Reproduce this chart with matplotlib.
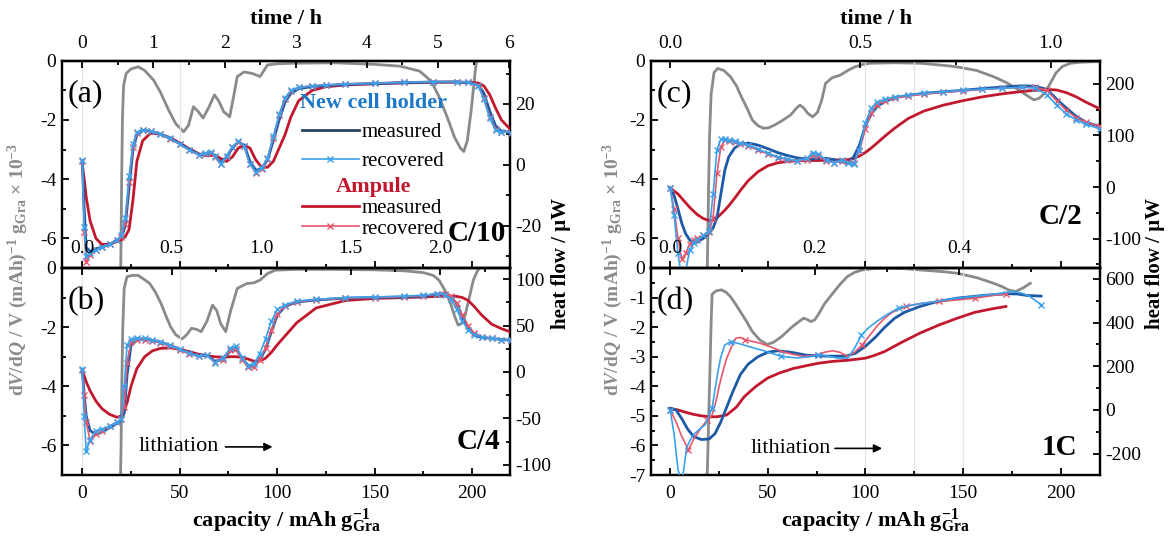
import numpy as np
import matplotlib
matplotlib.use("Agg")
import matplotlib.pyplot as plt
from matplotlib.ticker import MultipleLocator, FormatStrFormatter

# ---------------------------------------------------------------- data
# panel (a)  C/10
CAP_A = [0, 1, 2, 4, 7, 10, 14, 18, 20, 22, 24, 26, 28, 31, 35, 40, 45, 50, 55, 60,
         63, 66, 68, 71, 74, 77, 80, 83, 86, 89, 92, 95, 98, 101, 104, 107, 111, 118, 125, 135,
         150, 165, 180, 192, 198, 203, 206, 209, 212, 215, 220]
NCH_MEAS_A = [-3.4, -5.0, -6.3, -6.45, -6.35, -6.3, -6.2, -6.05, -5.95, -5.6, -4.3, -3.0, -2.5, -2.35, -2.38, -2.48, -2.62, -2.8, -3.0, -3.17,
              -3.15, -3.1, -3.2, -3.45, -3.25, -2.95, -2.75, -2.85, -3.4, -3.7, -3.65, -3.35, -2.7, -2.0, -1.4, -1.1, -0.95, -0.87, -0.84, -0.8,
              -0.77, -0.74, -0.72, -0.72, -0.74, -0.8, -1.1, -1.7, -2.2, -2.38, -2.42]
NCH_REC_A = [-3.35, -5.6, -6.6, -6.5, -6.4, -6.3, -6.2, -6.05, -5.9, -5.3, -3.9, -2.8, -2.42, -2.33, -2.37, -2.47, -2.62, -2.82, -3.02, -3.18,
             -3.13, -3.08, -3.22, -3.48, -3.22, -2.9, -2.72, -2.88, -3.5, -3.75, -3.62, -3.3, -2.55, -1.8, -1.25, -1.0, -0.9, -0.85, -0.82, -0.79,
             -0.76, -0.73, -0.71, -0.71, -0.73, -0.85, -1.3, -1.95, -2.35, -2.4, -2.43]
AMP_MEAS_A = [-3.5, -4.0, -4.6, -5.4, -6.0, -6.2, -6.2, -6.1, -6.05, -5.95, -5.7, -4.7, -3.4, -2.7, -2.45, -2.48, -2.6, -2.78, -2.98, -3.15,
              -3.2, -3.2, -3.2, -3.3, -3.4, -3.25, -2.95, -2.85, -2.95, -3.35, -3.6, -3.6, -3.4, -2.95, -2.5, -1.9, -1.35, -1.0, -0.88, -0.82,
              -0.78, -0.75, -0.73, -0.72, -0.73, -0.75, -0.85, -1.15, -1.6, -2.0, -2.35]
AMP_REC_A = [-3.4, -5.8, -6.8, -6.55, -6.4, -6.3, -6.2, -6.05, -5.95, -5.5, -4.1, -2.9, -2.45, -2.35, -2.38, -2.48, -2.63, -2.82, -3.02, -3.2,
             -3.15, -3.1, -3.25, -3.5, -3.25, -2.92, -2.75, -2.88, -3.5, -3.78, -3.65, -3.32, -2.6, -1.85, -1.3, -1.02, -0.9, -0.85, -0.82, -0.79,
             -0.76, -0.73, -0.71, -0.71, -0.73, -0.83, -1.25, -1.9, -2.3, -2.4, -2.43]
HEAT_CAP_A = [19.6, 19.9, 20.2, 20.6, 21.2, 22.5, 25, 28.7, 32, 36.5, 40, 44.3, 48, 52, 54.5, 57, 59.5, 62, 65, 67.8,
              70, 72.5, 75.6, 77.5, 79.5, 83, 87.3, 91.2, 95, 100, 110, 130, 150, 163, 173, 179, 183, 187, 191, 194,
              195.7, 197.5, 199.5, 201.6, 203.5]
HEAT_A = [-40, -25, -5, 15, 26, 30, 31.5, 32.2, 31, 27.9, 24, 18, 13.5, 10.9, 13, 19.1, 17.5, 15.4, 19, 23,
          21, 17.5, 15.8, 22, 29, 30.5, 30, 29, 32.8, 33.2, 33.4, 33.5, 33, 32.4, 30.8, 27.5, 22.4, 16, 9, 5.5,
          4.4, 8, 18, 31, 40]

# panel (b)  C/4
CAP_B = [0, 1, 2, 4, 7, 10, 14, 18, 20, 21.5, 23, 25, 28, 32, 36, 40, 45, 50, 55, 60,
         64, 68, 72, 76, 79, 82, 85, 88, 91, 94, 97, 100, 104, 110, 120, 135, 150, 165, 175, 182,
         186, 189, 192, 195, 198, 201, 205, 210, 215, 220]
NCH_MEAS_B = [-3.45, -4.3, -5.0, -5.5, -5.62, -5.55, -5.4, -5.25, -5.15, -4.9, -3.6, -2.6, -2.42, -2.4, -2.45, -2.5, -2.62, -2.75, -2.88, -2.98,
              -2.95, -3.15, -3.1, -2.8, -2.75, -3.05, -3.3, -3.3, -3.1, -2.75, -2.15, -1.6, -1.3, -1.15, -1.08, -1.02, -1.0, -0.98, -0.95, -0.88,
              -0.87, -0.97, -1.2, -1.65, -2.05, -2.27, -2.35, -2.38, -2.42, -2.44]
NCH_REC_B = [-3.4, -5.0, -6.2, -5.8, -5.5, -5.45, -5.35, -5.2, -5.1, -4.0, -2.6, -2.4, -2.38, -2.38, -2.43, -2.5, -2.62, -2.75, -2.88, -2.98,
             -2.95, -3.2, -3.05, -2.7, -2.65, -3.05, -3.3, -3.25, -2.9, -2.4, -1.8, -1.4, -1.25, -1.12, -1.06, -1.0, -0.98, -0.95, -0.92, -0.88,
             -0.9, -1.05, -1.4, -1.8, -2.1, -2.25, -2.33, -2.38, -2.42, -2.44]
AMP_MEAS_B = [-3.5, -3.65, -3.85, -4.15, -4.5, -4.75, -4.95, -5.05, -5.0, -4.85, -4.55, -4.0, -3.4, -3.0, -2.8, -2.72, -2.7, -2.75, -2.83, -2.92,
              -2.97, -3.0, -3.02, -3.0, -3.0, -3.02, -3.08, -3.15, -3.15, -3.05, -2.85, -2.6, -2.3, -1.85, -1.35, -1.1, -1.03, -1.0, -0.98, -0.96,
              -0.95, -0.95, -0.96, -1.0, -1.1, -1.3, -1.6, -1.9, -2.05, -2.17]
AMP_REC_B = [-3.45, -4.3, -5.2, -5.85, -5.6, -5.5, -5.35, -5.2, -5.1, -4.7, -3.2, -2.5, -2.42, -2.42, -2.47, -2.52, -2.65, -2.78, -2.9, -2.98,
             -2.95, -3.18, -3.1, -2.78, -2.75, -3.1, -3.35, -3.35, -3.1, -2.7, -2.1, -1.55, -1.28, -1.15, -1.07, -1.02, -1.0, -0.97, -0.94, -0.88,
             -0.88, -0.95, -1.2, -1.6, -1.95, -2.2, -2.32, -2.38, -2.42, -2.44]
HEAT_CAP_B = [19.6, 19.9, 20.3, 20.8, 21.5, 22.9, 25.5, 28.7, 31.5, 34.6, 37.5, 40.4, 43, 45.3, 48, 51.2, 53.5, 56, 58.5, 61,
              64, 66.8, 69, 71, 73.6, 76, 79.5, 84.4, 88, 91.2, 95, 99, 110, 130, 150, 165, 175, 180, 183, 186,
              188.9, 191, 192.8, 194.5, 196.5, 198.5, 200.6, 202.5, 204.5]
HEAT_B = [-115, -80, -10, 50, 90, 102.5, 104, 104, 100, 95.3, 86, 73.8, 60, 48.7, 40, 35.5, 40, 47, 46, 43.4,
          55, 72, 66, 52, 43.4, 65, 90, 95.3, 96, 99, 106, 109.7, 110.5, 110.5, 110, 109, 107, 104, 98.9, 88,
          73.8, 60, 50.5, 52, 62, 80, 98.9, 108, 115]

# panel (c)  C/2
CAP_C = [0, 2, 4, 6, 8, 10, 12, 14, 17, 20, 22, 24, 26, 28, 30, 33, 36, 40, 45, 50,
         55, 60, 65, 70, 73, 76, 80, 84, 88, 91, 94, 97, 100, 103, 106, 110, 115, 122, 130, 140,
         150, 160, 170, 180, 187, 193, 198, 203, 208, 213, 220]
NCH_MEAS_C = [-4.3, -4.55, -5.0, -5.5, -5.85, -6.05, -6.15, -6.12, -6.0, -5.82, -5.65, -5.3, -4.5, -3.7, -3.25, -2.95, -2.82, -2.78, -2.85, -2.97,
              -3.1, -3.2, -3.28, -3.32, -3.32, -3.3, -3.3, -3.34, -3.42, -3.45, -3.25, -2.85, -2.2, -1.8, -1.55, -1.38, -1.25, -1.17, -1.1, -1.05,
              -1.0, -0.94, -0.89, -0.85, -0.86, -0.97, -1.3, -1.6, -1.88, -2.08, -2.22]
NCH_REC_C = [-4.3, -5.2, -6.5, -7.4, -7.1, -6.4, -6.15, -6.05, -5.9, -5.75, -4.5, -3.0, -2.65, -2.65, -2.68, -2.72, -2.78, -2.85, -2.98, -3.12,
             -3.25, -3.32, -3.38, -3.3, -3.1, -3.15, -3.35, -3.45, -3.35, -3.45, -3.5, -3.0, -2.1, -1.6, -1.4, -1.3, -1.22, -1.16, -1.1, -1.05,
             -1.0, -0.96, -0.93, -0.9, -0.92, -1.15, -1.5, -1.8, -2.0, -2.15, -2.3]
AMP_MEAS_C = [-4.3, -4.4, -4.5, -4.65, -4.8, -4.95, -5.08, -5.2, -5.33, -5.4, -5.38, -5.3, -5.18, -5.05, -4.9, -4.65, -4.38, -4.05, -3.75, -3.55,
              -3.45, -3.4, -3.38, -3.37, -3.37, -3.37, -3.36, -3.35, -3.35, -3.34, -3.3, -3.22, -3.1, -2.95, -2.78, -2.55, -2.28, -1.95, -1.7, -1.5,
              -1.35, -1.22, -1.12, -1.04, -1.0, -0.97, -0.99, -1.08, -1.22, -1.4, -1.62]
AMP_REC_C = [-4.3, -5.0, -6.0, -6.7, -6.5, -6.2, -6.05, -6.0, -5.9, -5.8, -5.3, -3.8, -2.9, -2.68, -2.7, -2.74, -2.8, -2.88, -3.02, -3.15,
             -3.27, -3.34, -3.4, -3.35, -3.2, -3.22, -3.38, -3.45, -3.38, -3.42, -3.45, -3.05, -2.3, -1.75, -1.48, -1.35, -1.26, -1.19, -1.13, -1.07,
             -1.02, -0.97, -0.93, -0.9, -0.9, -1.0, -1.35, -1.68, -1.92, -2.08, -2.22]
HEAT_CAP_C = [19.0, 19.3, 19.7, 20.2, 21, 22.5, 24.3, 27.5, 30.9, 34, 36.5, 39.5, 42.1, 45, 47.8, 50.5, 53.4, 57.5, 61.8, 64.5,
              66.5, 68.5, 70.5, 73, 75.5, 77.7, 79.6, 83, 87.1, 91, 94.6, 98, 102, 115, 128.3, 140, 147, 157, 165.7, 172,
              178.8, 183, 186.3, 189, 191.9, 195, 197.6, 201, 205, 210, 216.3, 220]
HEAT_C = [-160, -100, 0, 100, 180, 222, 230, 226, 214, 196, 175, 152, 130, 119, 114, 115, 120, 129, 140, 152,
          159, 153, 143, 136, 145, 169, 201, 212, 217, 226, 233, 237, 240, 241, 240, 236, 233, 226, 214, 203,
          188, 177, 169, 172, 182, 203, 221, 234, 240, 242, 243, 243]

# panel (d)  1C
CAP_D_NM = [0, 3, 6, 9, 12, 16, 20, 23, 26, 29, 32, 36, 40, 45, 50, 55, 62, 70, 80, 90,
            95, 100, 105, 110, 115, 120, 128, 136, 147, 160, 172, 178, 183, 190]
NCH_MEAS_D = [-4.75, -4.8, -5.1, -5.45, -5.7, -5.8, -5.78, -5.6, -5.2, -4.7, -4.2, -3.6, -3.25, -3.0, -2.85, -2.8, -2.85, -2.95, -2.98, -2.98,
              -2.88, -2.65, -2.35, -2.0, -1.7, -1.5, -1.3, -1.15, -1.02, -0.93, -0.87, -0.88, -0.93, -0.95]
CAP_D_NR = [0, 2, 4, 6, 8.4, 10, 12, 15, 18, 21.5, 23, 24.5, 26, 28, 31, 35, 40, 48, 57, 65,
            72, 76, 80, 86, 91, 94.6, 98, 102, 106, 111, 117, 124, 132, 147, 160, 170, 175, 180, 184, 190]
NCH_REC_D = [-4.8, -5.6, -6.8, -7.3, -6.1, -5.85, -5.64, -5.45, -5.3, -4.74, -4.1, -3.5, -3.0, -2.6, -2.5, -2.55, -2.65, -2.8, -2.99, -3.04,
             -3.0, -2.93, -2.97, -3.05, -3.05, -2.7, -2.26, -2.0, -1.8, -1.58, -1.35, -1.25, -1.17, -1.02, -0.93, -0.85, -0.79, -0.85, -0.95, -1.24]
CAP_D_AM = [0, 4, 8, 12, 16, 20, 24, 29, 34, 38, 44, 50, 56, 63, 70, 76, 83, 91, 100, 105,
            110, 119, 128, 138, 147, 156, 165, 172]
AMP_MEAS_D = [-4.75, -4.8, -4.88, -4.95, -5.0, -5.03, -5.03, -4.97, -4.7, -4.35, -4.0, -3.72, -3.55, -3.4, -3.3, -3.22, -3.16, -3.12, -3.05, -2.95,
              -2.82, -2.5, -2.2, -1.92, -1.7, -1.5, -1.38, -1.3]
CAP_D_AR = [0, 3, 6, 9.4, 12, 15.9, 19, 21.5, 23.5, 25.3, 27, 29, 31.5, 33.7, 36, 38.4, 42, 45.9, 52, 57.1,
            63, 68.4, 72, 75.8, 79, 83.3, 87, 90.8, 94.5, 98.3, 102, 105.8, 109.5, 113.3, 117, 120.8, 128, 137.6, 147, 156.4,
            165, 172.3]
AMP_REC_D = [-4.8, -5.2, -5.7, -6.15, -5.8, -5.4, -5.15, -4.97, -4.5, -3.95, -3.5, -3.05, -2.65, -2.37, -2.35, -2.43, -2.48, -2.54, -2.68, -2.82,
             -2.92, -2.99, -2.97, -2.93, -2.85, -2.8, -2.85, -2.99, -2.85, -2.6, -2.3, -1.98, -1.72, -1.52, -1.4, -1.3, -1.2, -1.13, -1.08, -1.02,
             -0.93, -0.88]
HEAT_CAP_D = [19.0, 19.3, 19.7, 20.3, 21, 21.5, 23.5, 26.2, 28.5, 30.9, 33.5, 36.5, 39.5, 42.1, 45.9, 49.6, 53, 57.1, 60, 62.7,
              66.5, 68.4, 70, 72.1, 74, 75.8, 79, 83.3, 87, 90.8, 94.5, 98.3, 104, 109.6, 120, 128.3, 140, 147, 157, 165.7,
              170, 173.2, 177, 181, 184.5]
HEAT_D = [-300, -200, -50, 150, 400, 530, 545, 550, 540, 519, 485, 443, 400, 359, 321, 300, 310, 336, 360, 382,
          408, 420, 415, 405, 412, 435, 485, 534, 575, 611, 630, 641, 647, 649, 647, 641, 633, 626, 606, 580,
          565, 550, 542, 560, 580]
MARK_D_NR = [0, 9, 14, 18, 21, 26, 30, 39]
MARK_D_AR = [0, 3, 6, 15, 23, 29, 35, 37, 39, 41]

RATES = ["C/10", "C/4", "C/2", "1C"]
PANEL_TAGS = ["(a)", "(b)", "(c)", "(d)"]

# ---------------------------------------------------------------- style
plt.rcParams.update({
    "font.family": ["Liberation Serif", "DejaVu Serif"],
    "font.size": 14,
    "axes.unicode_minus": False,
    "mathtext.fontset": "custom",
    "mathtext.rm": "Liberation Serif:bold",
    "mathtext.it": "Liberation Serif:bold:italic",
    "mathtext.bf": "Liberation Serif:bold",
    "axes.linewidth": 1.6,
})

C_NM = "#1d5aa6"
C_NR = "#3aa2ec"
C_AM = "#c2182e"
C_AR = "#e8566a"
C_HEAT = "#8a8a8a"
C_GRID = "#e2e2e2"

W_PX, H_PX = 1170, 538
fig = plt.figure(figsize=(W_PX / 100, H_PX / 100), dpi=100)


def rect(l, t, r, b):
    return [l / W_PX, 1 - b / H_PX, (r - l) / W_PX, (b - t) / H_PX]


ax_a = fig.add_axes(rect(62, 60.7, 510, 268))
ax_b = fig.add_axes(rect(62, 268, 510, 475))
ax_c = fig.add_axes(rect(651, 60.7, 1100, 268))
ax_d = fig.add_axes(rect(651, 268, 1100, 475))


def tick_style(a, axis="both"):
    a.tick_params(axis=axis, which="both", direction="in", width=1.3, labelsize=14)
    a.tick_params(axis=axis, which="major", length=5)
    a.tick_params(axis=axis, which="minor", length=3)


def panel(ax, xlim, curves, heat, hlim, hmaj, ymaj, vlines, tag, rate, rate_y, rate_x,
          mark_nr=None, mark_ar=None):
    (xnm, ynm), (xnr, ynr), (xam, yam), (xar, yar) = curves
    axh = ax.twinx()
    axh.plot(heat[0], heat[1], color=C_HEAT, lw=2.0, zorder=2)
    axh.set_ylim(*hlim)
    axh.yaxis.set_major_locator(MultipleLocator(hmaj))
    axh.yaxis.set_minor_locator(MultipleLocator(hmaj / 2))
    tick_style(axh)
    axh.tick_params(axis="y", pad=4)
    ax.set_zorder(axh.get_zorder() + 1)
    ax.patch.set_visible(False)

    for v in vlines:
        ax.axvline(v, color=C_GRID, lw=0.9, zorder=0)
    ax.plot(xam, yam, color=C_AM, lw=2.0, zorder=3)
    ax.plot(xnm, ynm, color=C_NM, lw=2.0, zorder=4)
    ax.plot(xar, yar, color=C_AR, lw=1.2, marker="x", ms=4.5, mew=1.0,
            markevery=mark_ar, zorder=5)
    ax.plot(xnr, ynr, color=C_NR, lw=1.2, marker="x", ms=4.5, mew=1.0,
            markevery=mark_nr, zorder=6)

    ax.set_xlim(*xlim)
    ax.set_ylim(-7, 0)
    ax.xaxis.set_major_locator(MultipleLocator(50))
    ax.xaxis.set_minor_locator(MultipleLocator(25))
    ax.yaxis.set_major_locator(MultipleLocator(ymaj))
    ax.yaxis.set_minor_locator(MultipleLocator(ymaj / 2))
    tick_style(ax)
    ax.tick_params(right=False, top=False, which="both")
    ax.tick_params(axis="y", pad=4)
    ax.tick_params(axis="x", pad=7)
    ax.text(0.012, 0.84, tag, transform=ax.transAxes, fontsize=23, ha="left", va="center")
    ax.text(rate_x, rate_y, rate, transform=ax.transAxes, fontsize=21, fontweight="bold",
            ha="right", va="center")
    return axh


def time_axis(ax, factor, major, minor, fmt, pad, label=None):
    sec = ax.secondary_xaxis("top", functions=(lambda c, f=factor: np.asarray(c) / f,
                                               lambda t, f=factor: np.asarray(t) * f))
    sec.xaxis.set_major_locator(MultipleLocator(major))
    sec.xaxis.set_minor_locator(MultipleLocator(minor))
    sec.xaxis.set_major_formatter(FormatStrFormatter(fmt))
    tick_style(sec)
    sec.tick_params(axis="x", pad=pad)
    sec.spines["top"].set_linewidth(1.6)
    if label:
        sec.set_xlabel(label, fontweight="bold", fontsize=16, labelpad=8)
    return sec


XL = (-10.4, 219.4)
XR = (-9.8, 220.2)

panel(ax_a, XL,
      [(CAP_A, NCH_MEAS_A), (CAP_A, NCH_REC_A), (CAP_A, AMP_MEAS_A), (CAP_A, AMP_REC_A)],
      (HEAT_CAP_A, HEAT_A), (-33.8, 34.2), 20, 2, [0, 50], PANEL_TAGS[0], RATES[0], 0.165, 0.99)
panel(ax_b, XL,
      [(CAP_B, NCH_MEAS_B), (CAP_B, NCH_REC_B), (CAP_B, AMP_MEAS_B), (CAP_B, AMP_REC_B)],
      (HEAT_CAP_B, HEAT_B), (-111, 112), 50, 2, [0, 50], PANEL_TAGS[1], RATES[1], 0.16, 0.978)
panel(ax_c, XR,
      [(CAP_C, NCH_MEAS_C), (CAP_C, NCH_REC_C), (CAP_C, AMP_MEAS_C), (CAP_C, AMP_REC_C)],
      (HEAT_CAP_C, HEAT_C), (-157, 245), 100, 2, [100, 125, 150], PANEL_TAGS[2], RATES[2], 0.25, 0.96)
panel(ax_d, XR,
      [(CAP_D_NM, NCH_MEAS_D), (CAP_D_NR, NCH_REC_D), (CAP_D_AM, AMP_MEAS_D), (CAP_D_AR, AMP_REC_D)],
      (HEAT_CAP_D, HEAT_D), (-298, 650), 200, 1, [100, 125, 150], PANEL_TAGS[3], RATES[3], 0.135, 0.95,
      mark_nr=MARK_D_NR, mark_ar=MARK_D_AR)

for a in (ax_a, ax_c):
    a.tick_params(labelbottom=False)

time_axis(ax_a, 36.5, 1, 0.5, "%d", 6, "time / h")
time_axis(ax_c, 195.0, 0.5, 0.25, "%.1f", 6, "time / h")
time_axis(ax_b, 91.8, 0.5, 0.25, "%.1f", 8)
time_axis(ax_d, 370.0, 0.2, 0.1, "%.1f", 8)

xlab = r"capacity / mAh g$_{\mathrm{Gra}}^{-1}$"
for a in (ax_b, ax_d):
    a.set_xlabel(xlab, fontsize=16, fontweight="bold", labelpad=3)

# lithiation arrows
ax_b.text(29, -6.05, "lithiation", fontsize=16, ha="left", va="center")
ax_b.annotate("", xy=(99, -6.05), xytext=(72, -6.05),
              arrowprops=dict(arrowstyle="-|>", color="black", lw=1.2, mutation_scale=12))
ax_d.text(41, -6.1, "lithiation", fontsize=16, ha="left", va="center")
ax_d.annotate("", xy=(110, -6.1), xytext=(83, -6.1),
              arrowprops=dict(arrowstyle="-|>", color="black", lw=1.2, mutation_scale=12))

# legends in (a)
h_nm = plt.Line2D([], [], color="#2c4363", lw=2.0)
h_nr = plt.Line2D([], [], color=C_NR, lw=1.2, marker="x", ms=4.5, mew=1.0)
h_am = plt.Line2D([], [], color=C_AM, lw=2.0)
h_ar = plt.Line2D([], [], color=C_AR, lw=1.2, marker="x", ms=4.5, mew=1.0)
leg1 = ax_a.legend([h_nm, h_nr], ["measured", "recovered"], loc="center",
                   bbox_to_anchor=(0.695, 0.655), frameon=False, fontsize=15,
                   title="New cell holder", title_fontproperties={"weight": "bold", "size": 16},
                   handlelength=2.7, handletextpad=0.15, labelspacing=0.45, borderpad=0.1)
leg1.get_title().set_color("#1e78c8")
ax_a.add_artist(leg1)
leg2 = ax_a.legend([h_am, h_ar], ["measured", "recovered"], loc="center",
                   bbox_to_anchor=(0.695, 0.29), frameon=False, fontsize=15,
                   title="Ampule", title_fontproperties={"weight": "bold", "size": 16},
                   handlelength=2.7, handletextpad=0.15, labelspacing=0.05, borderpad=0.1)
leg2.get_title().set_color(C_AM)

# shared axis labels
ylab = r"d$\mathit{V}$/d$\mathit{Q}$ / V (mAh)$^{-1}$ g$_{\mathrm{Gra}}$ × 10$^{-3}$"
for xf in (18 / W_PX, 613 / W_PX):
    fig.text(xf, 0.5, ylab, rotation=90, ha="center", va="center", fontsize=14,
             fontweight="bold", color="#8c8c8c")
for xf in (561 / W_PX, 1155 / W_PX):
    fig.text(xf, 0.51, "heat flow / µW", rotation=90, ha="center", va="center",
             fontsize=15, fontweight="bold")

fig.savefig("out.png", dpi=100)
